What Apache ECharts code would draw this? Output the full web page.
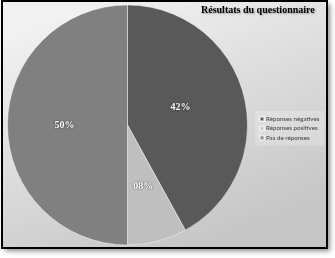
<!DOCTYPE html>
<html>
<head>
<meta charset="utf-8">
<script src="https://cdn.jsdelivr.net/npm/echarts@6/dist/echarts.min.js"></script>
<style>
  html, body { margin: 0; padding: 0; background: #ffffff; }
  #chart { width: 335px; height: 258px; }
</style>
</head>
<body>
<div id="chart"></div>
<script>
// Questionnaire results: share of each answer type (percent)
const categories = ['Réponses négatives', 'Réponses positives', 'Pas de réponses'];
const shares = [42, 8, 50];
const sliceColors = ['#595959', '#bfbfbf', '#808080'];
const titleText = 'Résultats du questionnaire';

const chart = echarts.init(document.getElementById('chart'), null, { renderer: 'canvas' });

const pieData = categories.map((name, i) => {
  const item = { name: name, value: shares[i], itemStyle: { color: sliceColors[i] } };
  if (i === 0) item.label = { offset: [-8, -2] };
  return item;
});

chart.setOption({
  backgroundColor: '#ffffff',
  animation: false,
  graphic: [
    {
      type: 'rect',
      z: -10,
      shape: { x: 2, y: 1, width: 325, height: 247 },
      style: {
        fill: new echarts.graphic.LinearGradient(0.3, 0, 0.6, 1, [
          { offset: 0, color: '#f1f1f1' },
          { offset: 1, color: '#c6c6c6' }
        ]),
        shadowBlur: 5,
        shadowOffsetX: 3,
        shadowOffsetY: 3,
        shadowColor: 'rgba(0,0,0,0.45)'
      }
    },
    {
      type: 'rect',
      z: 100,
      shape: { x: 2, y: 1, width: 325, height: 247 },
      style: { fill: 'none', stroke: '#000000', lineWidth: 2 }
    }
  ],
  title: {
    text: titleText,
    left: 201,
    top: 5,
    padding: 0,
    textStyle: {
      fontFamily: 'Liberation Serif',
      fontWeight: 'bold',
      fontSize: 10,
      color: '#000000',
      textShadowColor: 'rgba(110,110,110,0.7)',
      textShadowBlur: 2,
      textShadowOffsetX: 1,
      textShadowOffsetY: 1
    }
  },
  legend: {
    orient: 'vertical',
    left: 255,
    top: 111,
    padding: [4, 5, 4, 4],
    backgroundColor: 'rgba(255,255,255,0.22)',
    itemWidth: 4,
    itemHeight: 4,
    itemGap: 1.4,
    icon: 'rect',
    data: categories,
    textStyle: {
      fontFamily: 'Lato',
      fontSize: 6.2,
      lineHeight: 8,
      color: '#3a3a3a',
      padding: [0, 0, 0, -3]
    }
  },
  series: [{
    type: 'pie',
    center: [127.5, 125],
    radius: [0, 120],
    startAngle: 90,
    clockwise: true,
    silent: true,
    itemStyle: { borderColor: 'rgba(255,255,255,0.55)', borderWidth: 0.8 },
    label: {
      show: true,
      position: 'inside',
      formatter: p => String(p.value).padStart(2, '0') + '%',
      fontFamily: 'Liberation Serif',
      fontWeight: 'bold',
      fontSize: 10,
      color: '#ffffff',
      textShadowColor: 'rgba(0,0,0,0.8)',
      textShadowBlur: 2
    },
    labelLine: { show: false },
    data: pieData
  }]
});
</script>
</body>
</html>
